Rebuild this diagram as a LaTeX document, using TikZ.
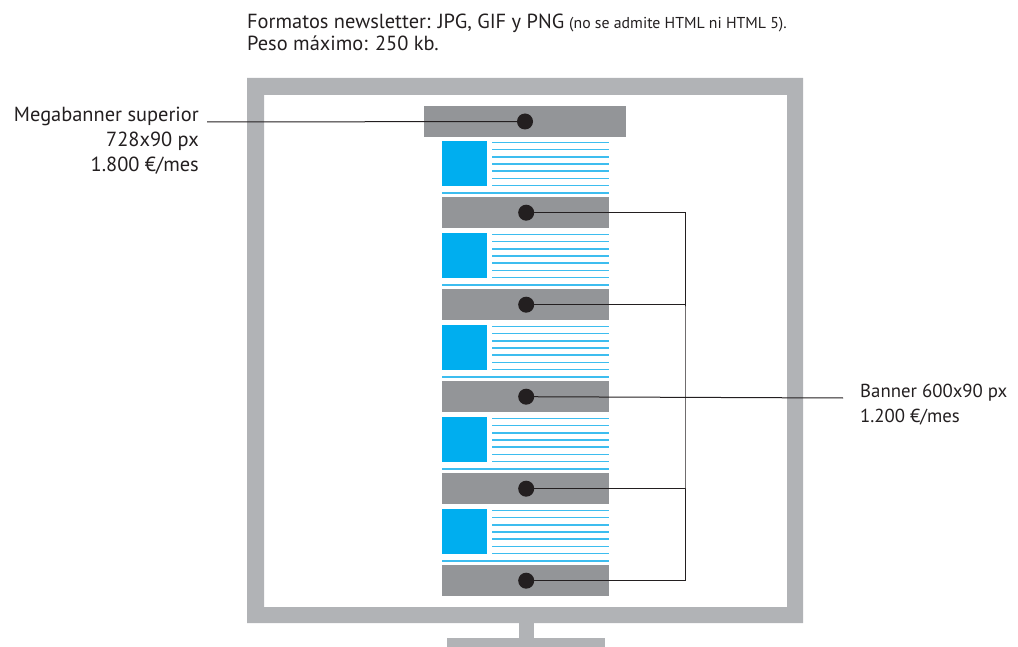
\documentclass[tikz,border=0pt]{standalone}
\usepackage{fontspec}
\setmainfont{PT Sans}
\usetikzlibrary{calc}
\definecolor{framegray}{HTML}{B1B3B6}
\definecolor{bannergray}{HTML}{939598}
\definecolor{cyanblue}{HTML}{00AEEF}
\definecolor{linecyan}{HTML}{3DBDEF}
\definecolor{ink}{HTML}{231F20}
\tikzset{
  banner/.style={fill=bannergray, draw=none, inner sep=0pt, minimum width=167pt, minimum height=31pt},
  megab/.style={fill=bannergray, draw=none, inner sep=0pt, minimum width=202pt, minimum height=31pt},
  dotnode/.style={circle, fill=ink, draw=none, inner sep=0pt, minimum size=16pt},
  conn/.style={draw=ink, line width=1pt},
  txt/.style={inner sep=0pt, text=ink, font=\fontsize{20.4}{24}\selectfont},
  rtxt/.style={inner sep=0pt, text=ink, font=\fontsize{18.8}{22}\selectfont},
  smalltxt/.style={inner sep=0pt, text=ink, font=\fontsize{15.8}{18}\selectfont},
  thumb/.style={fill=cyanblue, draw=none, inner sep=0pt, minimum width=45pt, minimum height=45pt},
  tline/.style={draw=linecyan, line width=1.3pt},
}
\begin{document}
\begin{tikzpicture}[x=1pt,y=-1pt]
\useasboundingbox (0,0) rectangle (1018,647);
% monitor
\fill[framegray] (447,638) rectangle (605,660);
\fill[framegray] (519,620) rectangle (534,640);
\fill[framegray,even odd rule] (247,78) rectangle (803,623) (264,95) rectangle (787,607);
% top text
\node[txt, anchor=base west] (t1) at (247,29) {Formatos newsletter: JPG, GIF y PNG};
\node[smalltxt, anchor=base west] (t1b) at (569,29) {(no se admite HTML ni HTML 5).};
\node[txt, anchor=base west] (t2) at (247,51) {Peso máximo: 250 kb.};
% megabanner
\node[megab] (mb) at (525,121.5) {};
% content blocks
\foreach \i in {0,...,4}{
  \pgfmathsetmacro{\T}{141+92*\i}
  \node[thumb, anchor=north west] (th\i) at (442,\T) {};
  \foreach \k in {0,...,6}{
    \draw[tline] (492,\T+1.7+7.1*\k) -- (609,\T+1.7+7.1*\k);
  }
  \draw[tline] (442,\T+52) -- (609,\T+52);
  \node[banner, anchor=north west] (b\i) at (442,\T+56) {};
}
% labels
\node[txt, anchor=base east] (lm1) at (199,122) {Megabanner superior};
\node[txt, anchor=base east] (lm2) at (199,147) {728x90 px};
\node[txt, anchor=base east] (lm3) at (199,172) {1.800 €/mes};
\node[rtxt, anchor=base west] (lb1) at (860,397) {Banner 600x90 px};
\node[rtxt, anchor=base west] (lb2) at (860,422) {1.200 €/mes};
\coordinate (ml) at (207,122);
\coordinate (bl) at (843,398);
\coordinate (bx) at (685,398);
% connectors
\draw[conn] (ml) -- (mb.center);
\foreach \i in {0,...,4}{
  \coordinate (c\i) at ($(b\i.center)+(0.5,0)$);
}
\draw[conn] (c0) -| (bx) |- (c4);
\draw[conn] (c1) -- (c1 -| bx);
\draw[conn] (c3) -- (c3 -| bx);
\draw[conn] (c2) -- (bl);
% dots
\node[dotnode] (dm) at (mb.center) {};
\foreach \i in {0,...,4}{
  \node[dotnode] (d\i) at (c\i) {};
}
\end{tikzpicture}
\end{document}
